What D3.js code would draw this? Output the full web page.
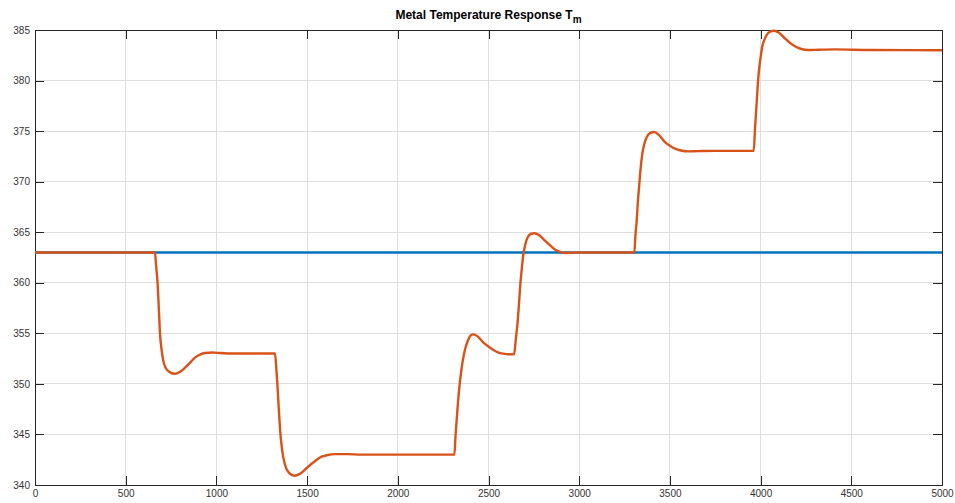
<!DOCTYPE html>
<html>
<head>
<meta charset="utf-8">
<script src="https://cdn.jsdelivr.net/npm/d3@7"></script>
<style>
  html, body { margin: 0; padding: 0; background: #fff; }
  svg { display: block; font-family: "Liberation Sans", Arial, Helvetica, sans-serif; }
</style>
</head>
<body>
<svg id="chart" width="955" height="503"></svg>
<script>
// Time axis (s) and metal temperature readings
const timeTm = [
  0, 661, 668, 676, 683, 689, 697, 707, 720, 740, 768, 800, 827, 855, 882, 910, 937, 980, 1020, 1100, 1323,
  1330, 1336, 1344, 1351, 1362, 1378, 1400, 1429, 1460, 1498, 1525, 1553, 1580, 1608, 1655, 1720, 1800, 2312,
  2318, 2324, 2331, 2339, 2350, 2361, 2375, 2389, 2402, 2416, 2440, 2472, 2500, 2527, 2555, 2582, 2610, 2641,
  2650, 2661, 2668, 2674, 2683, 2692, 2703, 2716, 2735, 2753, 2780, 2811, 2840, 2866, 2895, 2922, 2960, 3000, 3304,
  3310, 3317, 3323, 3330, 3338, 3348, 3360, 3372, 3390, 3414, 3440, 3473, 3500, 3528, 3560, 3601, 3650, 3749, 3962,
  3970, 3978, 3984, 3991, 4000, 4009, 4020, 4033, 4052, 4075, 4100, 4134, 4160, 4189, 4225, 4263, 4320, 4410, 4600, 5000
];
const tempTm = [
  363, 363, 361.6, 359.9, 357.3, 355.0, 353.5, 352.3, 351.6, 351.2, 351.0, 351.2, 351.6, 352.1, 352.6, 352.9, 353.05, 353.1, 353.05, 353.0, 353.0,
  351.6, 350.0, 347.5, 345.5, 343.5, 342.0, 341.2, 340.92, 341.1, 341.68, 342.1, 342.5, 342.8, 342.94, 343.05, 343.05, 343.0, 343.0,
  344.8, 346.3, 348.0, 349.6, 351.3, 352.6, 353.7, 354.4, 354.8, 354.9, 354.7, 354.08, 353.7, 353.35, 353.1, 352.99, 352.93, 352.92,
  354.3, 356.2, 357.9, 359.5, 361.3, 362.8, 363.8, 364.5, 364.85, 364.9, 364.7, 364.17, 363.7, 363.3, 363.05, 362.95, 362.97, 363.0, 363.0,
  364.7, 366.15, 367.9, 369.46, 371.2, 372.77, 373.8, 374.4, 374.8, 374.91, 374.6, 373.92, 373.55, 373.26, 373.08, 373.0, 373.02, 373.05, 373.05,
  375.5, 377.7, 379.5, 381.0, 382.3, 383.35, 384.0, 384.5, 384.85, 384.93, 384.75, 384.17, 383.75, 383.4, 383.12, 383.02, 383.05, 383.08, 383.02, 383.0
];
// Reference (initial) temperature line
const timeRef = [0, 5000];
const tempRef = [363, 363];

const xTicks = [0, 500, 1000, 1500, 2000, 2500, 3000, 3500, 4000, 4500, 5000];
const yTicks = [340, 345, 350, 355, 360, 365, 370, 375, 380, 385];

const W = 955, H = 503;
const margin = { left: 35, right: 13, top: 30, bottom: 18 };
const svg = d3.select("#chart");
svg.append("rect").attr("width", W).attr("height", H).attr("fill", "#fff");

const x = d3.scaleLinear().domain([0, 5000]).range([margin.left, W - margin.right]);
const y = d3.scaleLinear().domain([340, 385]).range([H - margin.bottom, margin.top]);

const axisColor = "#262626";
const tickLen = 9;

// Grid
const grid = svg.append("g");
grid.selectAll("line.gx").data(xTicks.slice(1, -1)).join("line")
  .attr("x1", d => x(d)).attr("x2", d => x(d))
  .attr("y1", y(340)).attr("y2", y(385))
  .attr("stroke", "#dfdfdf").attr("stroke-width", 1).attr("shape-rendering", "crispEdges");
grid.selectAll("line.gy").data(yTicks.slice(1, -1)).join("line")
  .attr("y1", d => y(d)).attr("y2", d => y(d))
  .attr("x1", x(0)).attr("x2", x(5000))
  .attr("stroke", "#dfdfdf").attr("stroke-width", 1).attr("shape-rendering", "crispEdges");

// Axes with inward ticks on all four sides
const styleAxis = g => {
  g.select(".domain").attr("stroke", axisColor).attr("shape-rendering", "crispEdges");
  g.selectAll(".tick line").attr("stroke", axisColor).attr("shape-rendering", "crispEdges");
  g.selectAll("text").attr("fill", "#333").attr("font-size", "10px");
};
svg.append("g").attr("transform", `translate(0,${y(340)})`)
  .call(d3.axisBottom(x).tickValues(xTicks).tickFormat(d3.format("d")).tickSizeInner(-tickLen).tickSizeOuter(0).tickPadding(5))
  .call(styleAxis);
svg.append("g").attr("transform", `translate(0,${y(385)})`)
  .call(d3.axisTop(x).tickValues(xTicks).tickFormat("").tickSizeInner(-tickLen).tickSizeOuter(0))
  .call(styleAxis);
svg.append("g").attr("transform", `translate(${x(0)},0)`)
  .call(d3.axisLeft(y).tickValues(yTicks).tickFormat(d3.format("d")).tickSizeInner(-tickLen).tickSizeOuter(0).tickPadding(5))
  .call(styleAxis);
svg.append("g").attr("transform", `translate(${x(5000)},0)`)
  .call(d3.axisRight(y).tickValues(yTicks).tickFormat("").tickSizeInner(-tickLen).tickSizeOuter(0))
  .call(styleAxis);

// Lines
const line = d3.line().x(d => x(d[0])).y(d => y(d[1])).curve(d3.curveMonotoneX);
svg.append("path").datum(d3.zip(timeRef, tempRef))
  .attr("d", line).attr("fill", "none").attr("stroke", "#0072BD").attr("stroke-width", 2.4);
svg.append("path").datum(d3.zip(timeTm, tempTm))
  .attr("d", line).attr("fill", "none").attr("stroke", "#D95319").attr("stroke-width", 2.4)
  .attr("stroke-linejoin", "round");

// Title
const title = svg.append("text")
  .attr("x", (x(0) + x(5000)) / 2).attr("y", 19)
  .attr("text-anchor", "middle").attr("font-size", "12px").attr("font-weight", "bold").attr("fill", "#000");
title.append("tspan").text("Metal Temperature Response T");
title.append("tspan").attr("dy", 4).attr("font-size", "10px").text("m");
</script>
</body>
</html>
